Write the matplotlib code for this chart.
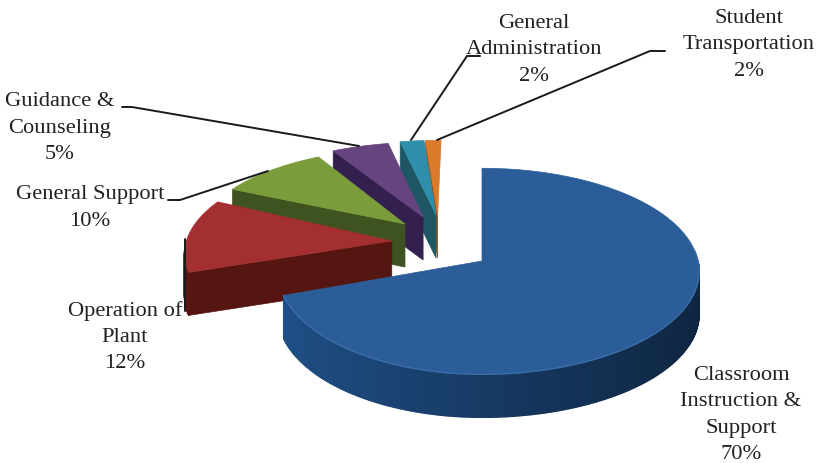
import numpy as np
import matplotlib
matplotlib.use("Agg")
import matplotlib.pyplot as plt
from matplotlib.patches import Polygon
from matplotlib.collections import PolyCollection
from matplotlib.colors import to_rgb

categories = ["Classroom\nInstruction &\nSupport", "Operation of\nPlant", "General Support",
              "Guidance &\nCounseling", "General\nAdministration", "Student\nTransportation"]
percent_labels = ["70%", "12%", "10%", "5%", "2%", "2%"]
shares = [69.7, 12.5, 9.7, 4.8, 2.0, 1.3]

top_colors = ["#2b5d98", "#a32f30", "#7a9c3a", "#66447f", "#2f8fab", "#da7a2a"]
cut_colors = ["#1b3f6c", "#551611", "#3f5320", "#33204f", "#1e5763", "#8f4f1c"]
side_left = ["#1f5088", "#5a1712", "#43581f", "#33204f", "#1e5763", "#8f4f1c"]
side_right = ["#0f2540", "#4a110d", "#3a4c1c", "#2b1b44", "#1a4b55", "#7a4318"]
rim_colors = ["#3a6ea8", "#a32f30", "#7a9c3a", "#66447f", "#2f8fab", "#da7a2a"]
explode_u = [0.0, -0.426, -0.37, -0.285, -0.223, -0.215]
explode_v = [0.0, 0.20, 0.376, 0.451, 0.472, 0.472]
radius_u = [0.94, 0.97, 0.97, 1.0, 1.0, 1.0]
radius_v = [1.0, 0.95, 0.87, 0.87, 0.87, 0.87]

label_pos = [(741, 415), (125, 337), (90, 208), (60, 128), (534, 50), (749, 45)]
leaders = [None,
           [(185, 240), (185, 312)],
           [(168, 201), (180, 201), (268, 172)],
           [(122, 108), (132, 108), (359, 147)],
           [(480, 57), (467, 57), (411, 141)],
           [(665, 52), (650, 52), (437, 141)]]

CX, CY, RX, RY, PERSP, DEPTH = 482, 262, 216, 102, 0.10, 43


def project(u, v, drop=0.0):
    s = 1.0 / (1.0 + PERSP * v)
    return CX + RX * s * u, CY - RY * s * v + drop


fig = plt.figure(figsize=(8.17, 4.64), dpi=100)
ax = fig.add_axes([0, 0, 1, 1])
ax.set_xlim(0, 817)
ax.set_ylim(464, 0)
ax.axis("off")

frac = np.array(shares) * 3.6
ends = 90 - np.cumsum(frac)
starts = ends + frac

for i in range(len(shares) - 1, -1, -1):
    t1, t0 = starts[i], ends[i]  # clockwise from t1 to t0
    eu, ev = explode_u[i], explode_v[i]
    th = np.radians(np.linspace(t1, t0, max(8, int((t1 - t0) * 1.5))))
    cu = np.cos(th) * np.where(np.cos(th) < 0, radius_u[i], 1.0)
    au, av = eu + cu, ev + np.sin(th) * radius_v[i]

    if i > 0:
        a0 = project(eu, ev)
        a1 = project(eu, ev, DEPTH)
        b0 = project(au[0], av[0])
        b1 = project(au[0], av[0], DEPTH)
        ax.add_patch(Polygon([a0, b0, b1, a1], closed=True, fc=cut_colors[i], ec=cut_colors[i], lw=0.5))

    quads, cols = [], []
    cl, cr = np.array(to_rgb(side_left[i])), np.array(to_rgb(side_right[i]))
    for k in range(len(th) - 1):
        if np.sin(th[k]) > 0.0 and np.sin(th[k + 1]) > 0.0:
            continue
        p0, p1 = project(au[k], av[k]), project(au[k + 1], av[k + 1])
        p2, p3 = project(au[k + 1], av[k + 1], DEPTH), project(au[k], av[k], DEPTH)
        quads.append([p0, p1, p2, p3])
        w = np.clip((np.cos(th[k]) + 1) / 2, 0, 1)
        cols.append(cl * (1 - w) + cr * w)
    if quads:
        ax.add_collection(PolyCollection(quads, facecolors=cols, edgecolors=cols, linewidths=1.0))

    xs, ys = project(au, av)
    ax_, ay_ = project(eu, ev)
    pts = [(ax_, ay_)] + list(zip(xs, ys))
    ax.add_patch(Polygon(pts, closed=True, fc=top_colors[i], ec=top_colors[i], lw=0.5))
    if i == 0:
        front = np.sin(th) < 0.1
        ax.plot(xs[front], ys[front], color=rim_colors[i], lw=1.0, solid_capstyle="round")

for i, cat in enumerate(categories):
    ax.text(label_pos[i][0], label_pos[i][1], cat + "\n" + percent_labels[i], ha="center", va="center",
            family="Liberation Serif", fontsize=16.2, color="#222222", linespacing=1.52, zorder=5)
    if leaders[i]:
        lx, ly = zip(*leaders[i])
        ax.plot(lx, ly, color="#1a1a1a", lw=1.4, zorder=4, solid_capstyle="round")

fig.savefig("out.png", dpi=100, facecolor="white")
